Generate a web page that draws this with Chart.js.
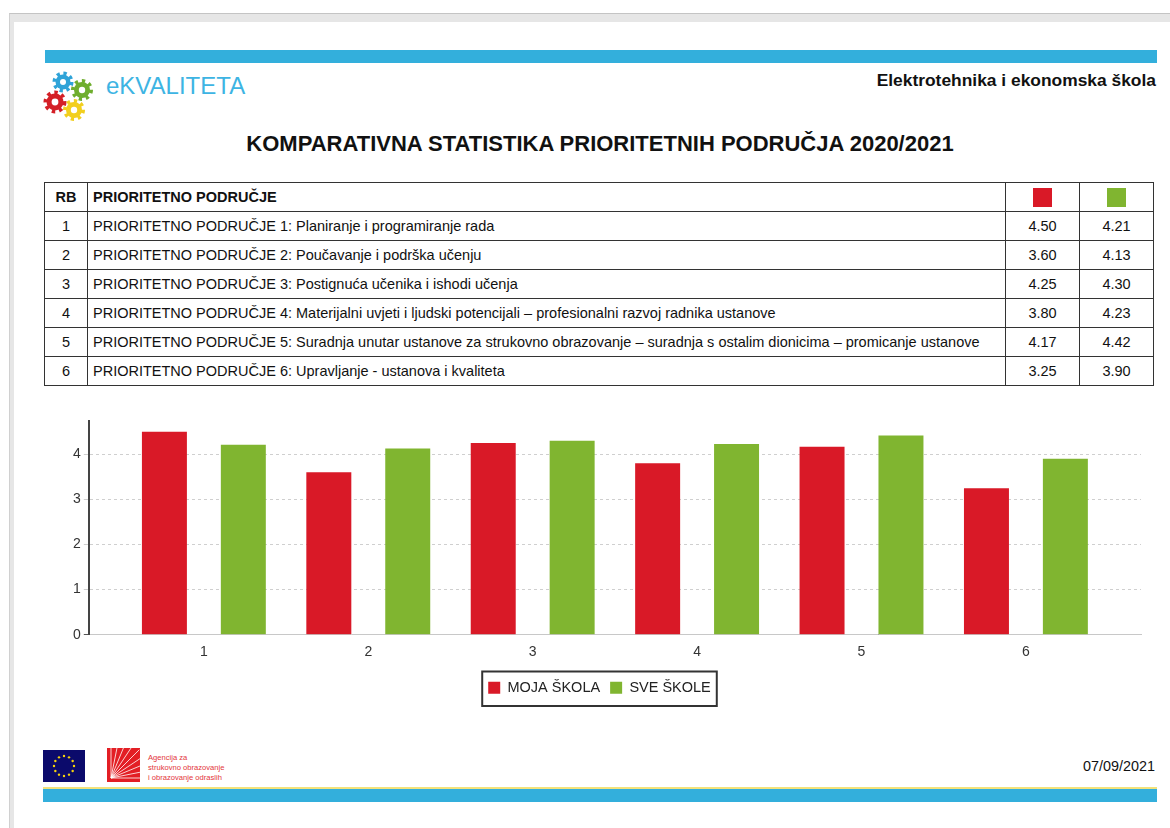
<!DOCTYPE html>
<html>
<head>
<meta charset="utf-8">
<script src="https://cdn.jsdelivr.net/npm/chart.js@4/dist/chart.umd.min.js"></script>
<style>
  body { margin: 0; background: #fff; font-family: "Liberation Sans", Arial, sans-serif; color: #111; }
  .sheet-bg { position: absolute; left: 9px; top: 13px; width: 1161px; height: 815px; background: #e6e6e6; border-top: 1px solid #c4c4c4; border-left: 1px solid #d0d0d0; }
  .sheet { position: absolute; left: 14px; top: 22px; width: 1156px; height: 806px; background: #fff; }
  .bar { position: absolute; left: 45px; width: 1112px; height: 13px; background: #33afdc; }
  .abs { position: absolute; }
  table.prio { position: absolute; left: 44px; top: 182px; width: 1110px; border-collapse: collapse; font-size: 14.5px; }
  table.prio td { border: 1px solid #333; height: 28px; padding: 0 5px; }
  table.prio td.c { text-align: center; padding: 0; }
  table.prio tr.h td { font-weight: bold; }
  .sq { display: inline-block; width: 19px; height: 19px; vertical-align: middle; }
</style>
</head>
<body>
<div class="sheet-bg"></div>
<div class="sheet"></div>
<div class="bar" style="top:50px"></div>

<svg class="abs" style="left:40px;top:68px" width="60" height="58">
  <g>
    <circle cx="23" cy="14" r="8.5" fill="none" stroke="#2fa3d8" stroke-width="4" stroke-dasharray="3.2 3.5"/>
    <circle cx="23" cy="14" r="7.5" fill="#2fa3d8"/>
    <circle cx="23" cy="14" r="3" fill="#fff"/>
    <circle cx="42" cy="22" r="9" fill="none" stroke="#6fae2e" stroke-width="4" stroke-dasharray="3.2 3.8"/>
    <circle cx="42" cy="22" r="8" fill="#6fae2e"/>
    <circle cx="42" cy="22" r="3.2" fill="#fff"/>
    <circle cx="15" cy="34" r="9.5" fill="none" stroke="#d42027" stroke-width="4" stroke-dasharray="3.4 3.9"/>
    <circle cx="15" cy="34" r="8.5" fill="#d42027"/>
    <circle cx="15" cy="34" r="3.4" fill="#fff"/>
    <circle cx="34" cy="42" r="9" fill="none" stroke="#f2cf1e" stroke-width="4" stroke-dasharray="3.2 3.8"/>
    <circle cx="34" cy="42" r="8" fill="#f2cf1e"/>
    <circle cx="34" cy="42" r="3.2" fill="#fff"/>
  </g>
</svg>
<div class="abs" style="left:106px;top:72px;font-size:24px;color:#3db4e3;">eKVALITETA</div>
<div class="abs" style="right:14px;top:70px;font-size:17.4px;font-weight:bold;">Elektrotehnika i ekonomska škola</div>
<div class="abs" style="left:0;width:1200px;top:131px;text-align:center;font-size:22px;font-weight:bold;">KOMPARATIVNA STATISTIKA PRIORITETNIH PODRUČJA 2020/2021</div>

<table class="prio" id="tbl"></table>

<div class="abs" style="left:40px;top:410px;width:1120px;height:302px;">
  <canvas id="chart"></canvas>
</div>

<svg class="abs" style="left:43px;top:750px" width="42" height="32">
  <rect width="42" height="32" fill="#0b0a6b"/>
  <g id="stars" fill="#f5d20c"></g>
</svg>
<svg class="abs" style="left:107px;top:748px" width="33" height="34">
  <rect width="33" height="34" fill="#e31e24"/>
  <g id="rays" stroke="#fff" stroke-width="0.8"></g>
</svg>
<div class="abs" style="left:148px;top:753px;font-size:7.6px;line-height:10px;color:#e3353a;">Agencija za<br>strukovno obrazovanje<br>i obrazovanje odraslih</div>
<div class="abs" style="right:15px;top:758px;font-size:14.4px;color:#111;">07/09/2021</div>
<div class="abs" style="left:43px;top:787px;width:1114px;height:2px;background:#f3e27a;"></div>
<div class="bar" style="top:789px;left:43px;width:1114px;"></div>

<script>
const categories = [1, 2, 3, 4, 5, 6];
const areaNames = [
  "PRIORITETNO PODRUČJE 1: Planiranje i programiranje rada",
  "PRIORITETNO PODRUČJE 2: Poučavanje i podrška učenju",
  "PRIORITETNO PODRUČJE 3: Postignuća učenika i ishodi učenja",
  "PRIORITETNO PODRUČJE 4: Materijalni uvjeti i ljudski potencijali – profesionalni razvoj radnika ustanove",
  "PRIORITETNO PODRUČJE 5: Suradnja unutar ustanove za strukovno obrazovanje – suradnja s ostalim dionicima – promicanje ustanove",
  "PRIORITETNO PODRUČJE 6: Upravljanje - ustanova i kvaliteta"
];
const mojaSkola = [4.50, 3.60, 4.25, 3.80, 4.17, 3.25];
const sveSkole = [4.21, 4.13, 4.30, 4.23, 4.42, 3.90];
const redColor = "#d91927";
const greenColor = "#80b530";

// table
const tbl = document.getElementById("tbl");
let html = '<tr class="h"><td class="c" style="width:42px">RB</td><td>PRIORITETNO PODRUČJE</td>' +
  '<td class="c" style="width:73px"><span class="sq" style="background:' + redColor + '"></span></td>' +
  '<td class="c" style="width:73px"><span class="sq" style="background:' + greenColor + '"></span></td></tr>';
categories.forEach((c, i) => {
  html += '<tr><td class="c">' + c + '</td><td>' + areaNames[i] + '</td><td class="c">' +
    mojaSkola[i].toFixed(2) + '</td><td class="c">' + sveSkole[i].toFixed(2) + '</td></tr>';
});
tbl.innerHTML = html;

// small logos
const stars = document.getElementById("stars");
for (let i = 0; i < 12; i++) {
  const a = i * Math.PI / 6;
  stars.innerHTML += '<circle cx="' + (21 + 10 * Math.cos(a)) + '" cy="' + (16 + 10 * Math.sin(a)) + '" r="1.2"/>';
}
const rays = document.getElementById("rays");
for (let i = 0; i < 9; i++) {
  const a = i * Math.PI / 16;
  rays.innerHTML += '<line x1="4" y1="30" x2="' + (4 + 40 * Math.cos(a)) + '" y2="' + (30 - 40 * Math.sin(a)) + '"/>';
}

// legend frame + small shift to the left
const legendBox = {
  id: "legendBox",
  afterLayout(chart) {
    chart.legend.left -= 6;
    chart.legend.right -= 6;
  },
  afterDraw(chart) {
    const boxes = chart.legend.legendHitBoxes;
    if (!boxes || !boxes.length) return;
    const first = boxes[0];
    const last = boxes[boxes.length - 1];
    const ctx = chart.ctx;
    ctx.save();
    ctx.strokeStyle = "#333";
    ctx.lineWidth = 2;
    ctx.strokeRect(first.left - 6, first.top - 9, last.left + last.width - first.left + 12, first.height + 20);
    ctx.restore();
  }
};

Chart.defaults.font.family = '"Liberation Sans", Arial, sans-serif';
Chart.defaults.color = "#333";

new Chart(document.getElementById("chart"), {
  type: "bar",
  data: {
    datasets: [
      {
        label: "MOJA ŠKOLA",
        data: categories.map((c, i) => ({ x: c, y: mojaSkola[i] })),
        backgroundColor: redColor,
        categoryPercentage: 0.96,
        barPercentage: 0.57,
      },
      {
        label: "SVE ŠKOLE",
        data: categories.map((c, i) => ({ x: c, y: sveSkole[i] })),
        backgroundColor: greenColor,
        categoryPercentage: 0.96,
        barPercentage: 0.57,
      },
    ],
  },
  options: {
    responsive: true,
    maintainAspectRatio: false,
    animation: false,
    layout: { padding: { left: 30, right: 19, top: 11, bottom: 7 } },
    plugins: {
      tooltip: { enabled: false },
      legend: {
        position: "bottom",
        labels: { boxWidth: 12, boxHeight: 12, padding: 10, font: { size: 14.5 }, color: "#222" },
      },
    },
    scales: {
      x: {
        type: "linear",
        min: 0.3,
        max: 6.7,
        offset: false,
        bounds: "data",
        grid: { display: false },
        border: { display: true, color: "#c8c8c8", width: 1 },
        afterBuildTicks: (scale) => {
          scale.ticks = categories.map((v) => ({ value: v }));
        },
        afterFit: (scale) => {
          scale.height += 9;
        },
        ticks: { stepSize: 1, padding: 1, font: { size: 14 } },
      },
      y: {
        min: 0,
        max: 4.73,
        bounds: "data",
        grid: {
          color: (ctx) => (ctx.tick && ctx.tick.value === 0 ? "#555" : "#cfcfcf"),
          tickLength: 5,
        },
        border: { display: true, color: "#444", width: 2, dash: [3, 3] },
        ticks: { stepSize: 1, includeBounds: false, padding: 3, font: { size: 14 } },
      },
    },
  },
  plugins: [legendBox],
});
</script>
</body>
</html>
